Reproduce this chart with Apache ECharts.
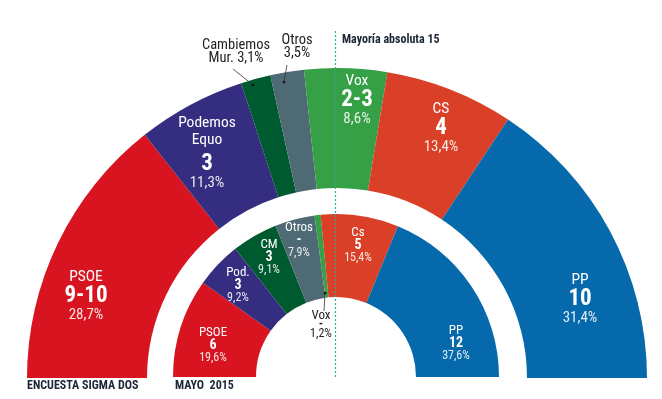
<!DOCTYPE html>
<html>
<head>
<meta charset="utf-8">
<script src="https://cdn.jsdelivr.net/npm/echarts@6/dist/echarts.min.js"></script>
<style>
html,body{margin:0;padding:0;background:#fff;}
#c{width:662px;height:399px;}
</style>
</head>
<body>
<div id="c"></div>
<script>
// ---- Data ----
const outerNames = ['PSOE', 'Podemos\nEquo', 'Cambiemos', 'Otros', 'Vox', 'CS', 'PP'];
const outerValues = [28.7, 11.3, 3.1, 3.5, 8.6, 13.4, 31.4];
const outerSeats = ['9-10', '3', '', '', '2-3', '4', '10'];
const innerNames = ['PSOE', 'Pod.', 'CM', 'Otros', 'Vox', 'Cs', 'PP'];
const innerValues = [19.6, 9.2, 9.1, 7.9, 1.2, 15.4, 37.6];
const innerSeats = ['6', '3', '3', '-', '-', '5', '12'];
const partyColors = ['#d7141f', '#352d80', '#005a30', '#4e6a74', '#36a047', '#d94027', '#0569ab'];

// ---- Layout (label anchor points) ----
const outerLabelPos = [[86, 296], [207, 153], null, null, [357, 100], [441, 128], [580, 299]];
const innerLabelPos = [[213, 345], [238, 285], [269, 257], [299, 240], null, [358, 245], [456, 343]];

const FONT = "'Liberation Sans Narrow', 'Roboto Condensed', 'Arial Narrow', 'Liberation Sans', sans-serif";
const fmt = v => v.toFixed(1).replace('.', ',') + '%';

const chart = echarts.init(document.getElementById('c'), null, {renderer: 'canvas'});

function outerData() {
  return outerNames.map((n, i) => {
    const d = {name: n, value: outerValues[i], itemStyle: {color: partyColors[i]}};
    if (!outerLabelPos[i]) d.label = {show: false};
    return d;
  });
}
function innerData() {
  return innerNames.map((n, i) => {
    const d = {name: n, value: innerValues[i], itemStyle: {color: partyColors[i]}};
    if (!innerLabelPos[i]) d.label = {show: false};
    return d;
  });
}

const option = {
  animation: false,
  series: [
    {
      type: 'pie',
      center: [337, 378],
      radius: [190, 310],
      startAngle: 180,
      endAngle: 0,
      clockwise: true,
      silent: true,
      data: outerData(),
      itemStyle: {borderWidth: 0},
      labelLine: {show: false},
      label: {
        show: true,
        position: 'inside',
        align: 'center',
        verticalAlign: 'middle',
        fontFamily: FONT,
        formatter: p => {
          const i = p.dataIndex;
          const nm = outerNames[i].split('\n').map(s => '{n|' + s + '}').join('\n');
          const gap = i === 1 ? '{g|}\n' : '';
          return nm + '\n' + gap + '{s|' + outerSeats[i] + '}\n{p|' + fmt(outerValues[i]) + '}';
        },
        rich: {
          n: {fontFamily: FONT, fontSize: 15.5, lineHeight: 17, color: '#fff'},
          g: {fontSize: 4, lineHeight: 4},
          s: {fontFamily: FONT, fontSize: 23, fontWeight: 'bold', lineHeight: 22, color: '#fff'},
          p: {fontFamily: FONT, fontSize: 15, lineHeight: 16, color: 'rgba(255,255,255,0.88)'}
        }
      },
      labelLayout: p => {
        const q = outerLabelPos[p.dataIndex];
        return q ? {x: q[0], y: q[1]} : {};
      }
    },
    {
      type: 'pie',
      center: [336, 377],
      radius: [80, 163],
      startAngle: 180,
      endAngle: 0,
      clockwise: true,
      silent: true,
      data: innerData(),
      itemStyle: {borderWidth: 0},
      labelLine: {show: false},
      label: {
        show: true,
        position: 'inside',
        align: 'center',
        verticalAlign: 'middle',
        fontFamily: FONT,
        formatter: p => {
          const i = p.dataIndex;
          return '{n|' + innerNames[i] + '}\n{s|' + innerSeats[i] + '}\n{p|' + fmt(innerValues[i]) + '}';
        },
        rich: {
          n: {fontFamily: FONT, fontSize: 13, lineHeight: 12, color: '#fff'},
          s: {fontFamily: FONT, fontSize: 14, fontWeight: 'bold', lineHeight: 13, color: '#fff'},
          p: {fontFamily: FONT, fontSize: 12, lineHeight: 12, color: 'rgba(255,255,255,0.88)'}
        }
      },
      labelLayout: p => {
        const q = innerLabelPos[p.dataIndex];
        return q ? {x: q[0], y: q[1]} : {};
      }
    }
  ],
  graphic: [
    // majority dashed line
    {type: 'line', z: 100, shape: {x1: 335.5, y1: 31, x2: 335.5, y2: 378},
     style: {stroke: '#25ad9c', lineWidth: 1.2, lineDash: [2, 2]}},
    {type: 'text', z: 100, left: 342, top: 34,
     style: {text: 'Mayoría absoluta 15', fontFamily: FONT, fontSize: 12, fontWeight: 'bold', fill: '#1b2636'}},
    // Cambiemos annotation
    {type: 'text', z: 100, x: 236, y: 52,
     style: {text: 'Cambiemos\nMur. ' + fmt(outerValues[2]), fontFamily: FONT, fontSize: 14.5, lineHeight: 13,
             fill: '#222', align: 'center', verticalAlign: 'middle'}},
    {type: 'line', z: 100, shape: {x1: 233, y1: 69, x2: 253, y2: 85}, style: {stroke: '#333', lineWidth: 0.8}},
    {type: 'circle', z: 100, shape: {cx: 253, cy: 85, r: 1.3}, style: {fill: '#111'}},
    // Otros annotation
    {type: 'text', z: 100, x: 297, y: 47,
     style: {text: 'Otros\n' + fmt(outerValues[3]), fontFamily: FONT, fontSize: 14.5, lineHeight: 13,
             fill: '#222', align: 'center', verticalAlign: 'middle'}},
    {type: 'line', z: 100, shape: {x1: 287, y1: 65, x2: 284, y2: 82}, style: {stroke: '#333', lineWidth: 0.8}},
    {type: 'circle', z: 100, shape: {cx: 284, cy: 82, r: 1.3}, style: {fill: '#111'}},
    // inner Vox annotation
    {type: 'line', z: 100, shape: {x1: 325, y1: 293, x2: 324, y2: 311}, style: {stroke: '#333', lineWidth: 0.8}},
    {type: 'circle', z: 100, shape: {cx: 325, cy: 293, r: 1.3}, style: {fill: '#111'}},
    {type: 'text', z: 100, x: 321, y: 325,
     style: {text: '{a|' + innerNames[4] + '}\n{b|' + innerSeats[4] + '}\n{c|' + fmt(innerValues[4]) + '}',
             align: 'center', verticalAlign: 'middle',
             rich: {
               a: {fontFamily: FONT, fontSize: 13, lineHeight: 11, fill: '#222'},
               b: {fontFamily: FONT, fontSize: 12, fontWeight: 'bold', lineHeight: 6, fill: '#222'},
               c: {fontFamily: FONT, fontSize: 12, lineHeight: 12, fill: '#222'}
             }}},
    // footer
    {type: 'text', z: 100, left: 27, top: 380,
     style: {text: 'ENCUESTA SIGMA DOS', fontFamily: FONT, fontSize: 12, fontWeight: 'bold', fill: '#1b2636'}},
    {type: 'text', z: 100, left: 175, top: 380,
     style: {text: 'MAYO  2015', fontFamily: FONT, fontSize: 12, fontWeight: 'bold', fill: '#1b2636'}}
  ]
};
chart.setOption(option);
</script>
</body>
</html>
